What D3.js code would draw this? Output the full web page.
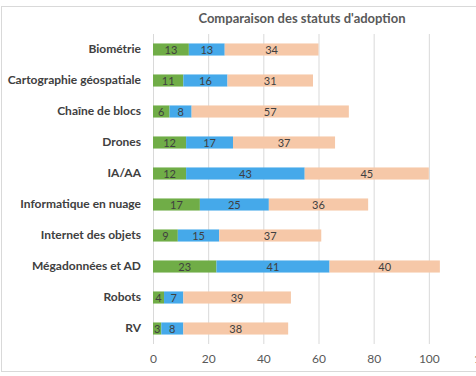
<!DOCTYPE html>
<html>
<head>
<meta charset="utf-8">
<script src="https://cdn.jsdelivr.net/npm/d3@7"></script>
<style>
body { margin:0; background:#fff; }
svg { font-family: Lato, "Open Sans", sans-serif; }
</style>
</head>
<body>
<div id="chart"></div>
<script>
var categories = ["Biométrie","Cartographie géospatiale","Chaîne de blocs","Drones","IA/AA","Informatique en nuage","Internet des objets","Mégadonnées et AD","Robots","RV"];
var adopted = [13,11,6,12,12,17,9,23,4,3];
var planned = [13,16,8,17,43,25,15,41,7,8];
var notPlanned = [34,31,57,37,45,36,37,40,39,38];
var ticks = [0,20,40,60,80,100,120];
var colors = ["#70ad47","#45a9ea","#f6c8a8"];

var w = 476, h = 376;
var svg = d3.select("#chart").append("svg").attr("width", w).attr("height", h);

// cadre
svg.append("rect").attr("x",1.5).attr("y",6.5).attr("width",w+10).attr("height",365)
  .attr("fill","none").attr("stroke","#d9d9d9");

var x = d3.scaleLinear().domain([0,120]).range([153, 484]);
var y = d3.scaleBand().domain(categories).range([34, 344]).paddingInner(0.61).paddingOuter(0.305);

svg.append("text").text("Comparaison des statuts d'adoption")
  .attr("x", 302).attr("y", 23).attr("text-anchor","middle")
  .attr("font-size", 13).attr("font-weight","bold").attr("fill","#595959");

svg.append("g").selectAll("line").data(ticks).enter().append("line")
  .attr("x1", function(d){ return x(d)+0.5; }).attr("x2", function(d){ return x(d)+0.5; })
  .attr("y1", 34).attr("y2", 344).attr("stroke","#d9d9d9");

var xAxis = d3.axisBottom(x).tickValues(ticks).tickSize(0).tickPadding(10);
var gx = svg.append("g").attr("transform","translate(0,344)").call(xAxis);
gx.select(".domain").remove();
gx.selectAll("text").attr("font-size", 12).attr("fill","#595959").attr("font-family","Lato, sans-serif");

var yAxis = d3.axisLeft(y).tickSize(0).tickPadding(12);
var gy = svg.append("g").attr("transform","translate(153,0)").call(yAxis);
gy.select(".domain").remove();
gy.selectAll("text").attr("font-size", 12).attr("font-weight","bold").attr("fill","#404040").attr("font-family","Lato, sans-serif");

var rows = categories.map(function(c,i){ return {cat:c, a:adopted[i], p:planned[i], n:notPlanned[i]}; });
var stack = d3.stack().keys(["a","p","n"])(rows);

stack.forEach(function(layer, k){
  var g = svg.append("g");
  g.selectAll("rect").data(layer).enter().append("rect")
    .attr("x", function(d){ return x(d[0]); })
    .attr("width", function(d){ return x(d[1]) - x(d[0]); })
    .attr("y", function(d){ return y(d.data.cat); })
    .attr("height", y.bandwidth())
    .attr("fill", colors[k]);
  g.selectAll("text").data(layer).enter().append("text")
    .text(function(d){ return d[1]-d[0]; })
    .attr("x", function(d){ return (x(d[0]) + x(d[1]))/2; })
    .attr("y", function(d){ return y(d.data.cat) + y.bandwidth()/2 + 4; })
    .attr("text-anchor","middle").attr("font-size", 11).attr("fill","#404040");
});
</script>
</body>
</html>
